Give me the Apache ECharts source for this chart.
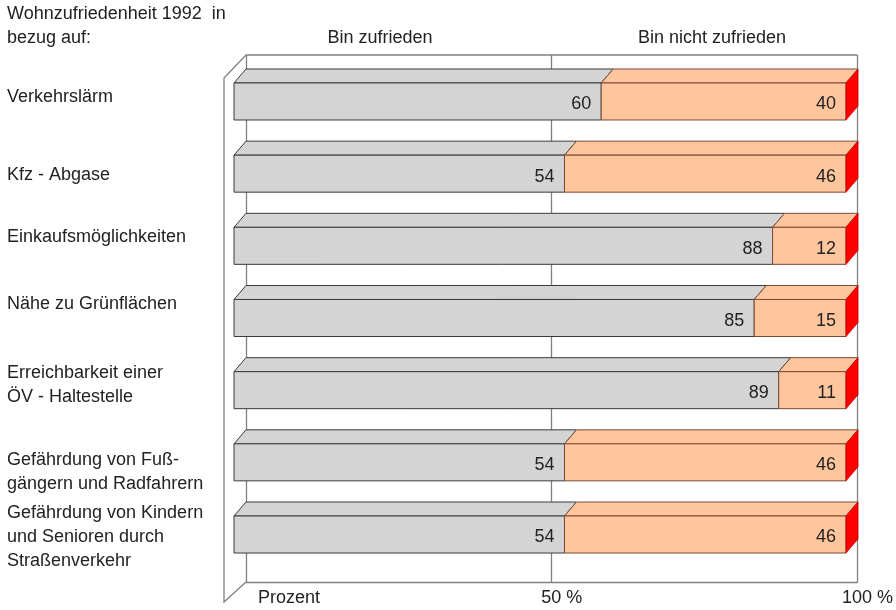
<!DOCTYPE html>
<html><head><meta charset="utf-8">
<script src="https://cdn.jsdelivr.net/npm/echarts@6/dist/echarts.min.js"></script>
<style>html,body{margin:0;padding:0;background:#fff}#c{width:896px;height:610px}</style>
</head><body><div id="c"></div>
<script>
// ---- data ----
const categories = ['Verkehrslärm', 'Kfz - Abgase', 'Einkaufsmöglichkeiten', 'Nähe zu Grünflächen',
  'Erreichbarkeit einer\nÖV - Haltestelle', 'Gefährdung von Fuß-\ngängern und Radfahrern',
  'Gefährdung von Kindern\nund Senioren durch\nStraßenverkehr'];
const satisfied = [60, 54, 88, 85, 89, 54, 54];
const notSatisfied = [40, 46, 12, 15, 11, 46, 46];
const seriesNames = ['Bin zufrieden', 'Bin nicht zufrieden'];
const axisTicks = [0, 50, 100];
const axisTickLabels = ['Prozent', '50 %', '100 %'];
const titleText = 'Wohnzufriedenheit 1992  in\nbezug auf:';

// ---- layout / style ----
const FONT = '"Liberation Sans", Arial, sans-serif';
const labelCenterY = [97, 175, 237, 304, 385, 472, 537];
const headerX = [380, 712];
const DX = 12, DY = -14;
const BAR_RATIO = 0.513;
const styles = [
  {front: '#d4d4d4', top: '#d4d4d4', stroke: '#3a3a3a'},
  {front: '#ffc69e', top: '#ffc69e', stroke: '#7a4a36', side: '#ff0000'}
];

function segRender(k) {
  const st = styles[k];
  return function (params, api) {
    const i = api.value(0), start = api.value(1), val = api.value(2);
    const p0 = api.coord([start, i]);
    const p1 = api.coord([start + val, i]);
    const h = api.size([0, 1])[1] * BAR_RATIO;
    const top = p0[1] - h / 2, bot = p0[1] + h / 2;
    const x0 = p0[0], x1 = p1[0];
    const children = [
      {type: 'polygon', shape: {points: [[x0, top], [x0 + DX, top + DY], [x1 + DX, top + DY], [x1, top]]},
        style: {fill: st.top, stroke: st.stroke, lineWidth: 1}},
      {type: 'rect', shape: {x: x0, y: top, width: x1 - x0, height: h},
        style: {fill: st.front, stroke: st.stroke, lineWidth: 1}}
    ];
    if (st.side) {
      children.push({type: 'polygon', shape: {points: [[x1, top], [x1 + DX, top + DY], [x1 + DX, bot + DY], [x1, bot]]},
        style: {fill: st.side, stroke: '#cc0000', lineWidth: 0.8}});
    }
    children.push({type: 'text', style: {text: String(val), x: x1 - 10, y: p0[1] + 3, align: 'right',
      verticalAlign: 'middle', font: '18px ' + FONT, fill: '#222'}});
    return {type: 'group', children: children};
  };
}

function frameRender(params, api) {
  const tl = api.coord([0, 1]), tr = api.coord([100, 1]), bl = api.coord([0, 0]);
  const ls = {stroke: '#808080', lineWidth: 1.3, fill: null};
  return {type: 'group', children: [
    {type: 'line', shape: {x1: tl[0], y1: tl[1], x2: tr[0], y2: tr[1]}, style: ls},
    {type: 'polyline', shape: {points: [[tl[0], tl[1]], [tl[0] - 22, tl[1] + 23], [bl[0] - 22, bl[1] + 20], [bl[0], bl[1]]]}, style: ls}
  ]};
}

const graphics = [];
categories.forEach((c, i) => {
  graphics.push({type: 'text', left: 7, top: labelCenterY[i] - (c.split('\n').length * 24) / 2,
    style: {text: c, font: '18px ' + FONT, fill: '#222', lineHeight: 24}});
});
seriesNames.forEach((s, k) => {
  graphics.push({type: 'text', x: headerX[k], y: 38,
    style: {text: s, font: '18px ' + FONT, fill: '#222', align: 'center', verticalAlign: 'middle'}});
});

const chart = echarts.init(document.getElementById('c'));
chart.setOption({
  animation: false,
  backgroundColor: '#fff',
  title: {text: titleText, left: 7, top: 2, padding: 0,
    textStyle: {fontFamily: FONT, fontSize: 18, fontWeight: 'normal', color: '#222', lineHeight: 24}},
  grid: [
    {left: 234, right: 50, top: 65.4, bottom: 39.4},
    {left: 246, right: 38, top: 55, bottom: 28}
  ],
  xAxis: [
    {type: 'value', gridIndex: 0, min: 0, max: 100, show: false},
    {type: 'value', gridIndex: 1, min: 0, max: 100, interval: 50,
      axisLine: {show: true, lineStyle: {color: '#808080', width: 1.3}},
      axisTick: {show: false},
      splitLine: {show: true, showMinLine: true, showMaxLine: true, lineStyle: {color: '#808080', width: 1.3}},
      axisLabel: {
        margin: 7, padding: [0, 0, 0, 12], alignMinLabel: 'left', color: '#222',
        fontFamily: FONT, fontSize: 18,
        formatter: function (v) {
          const k = axisTicks.indexOf(v);
          return k === 0 ? '{m|' + axisTickLabels[0] + '}' : '{c|' + axisTickLabels[k] + '}';
        },
        rich: {
          m: {fontFamily: FONT, fontSize: 18, color: '#222'},
          c: {fontFamily: FONT, fontSize: 18, color: '#222', padding: [0, 0, 0, 8]}
        }
      }}
  ],
  yAxis: [
    {type: 'category', gridIndex: 0, data: categories, inverse: true, show: false},
    {type: 'value', gridIndex: 1, min: 0, max: 1, show: false}
  ],
  graphic: graphics,
  series: [
    {type: 'custom', name: 'frame', xAxisIndex: 1, yAxisIndex: 1, renderItem: frameRender, data: [[0, 0]], silent: true, z: 1},
    {type: 'custom', name: seriesNames[0], xAxisIndex: 0, yAxisIndex: 0, renderItem: segRender(0),
      encode: {x: [1, 2], y: 0}, data: satisfied.map((v, i) => [i, 0, v]), z: 2},
    {type: 'custom', name: seriesNames[1], xAxisIndex: 0, yAxisIndex: 0, renderItem: segRender(1),
      encode: {x: [1, 2], y: 0}, data: notSatisfied.map((v, i) => [i, satisfied[i], v]), z: 3}
  ]
});
</script></body></html>
